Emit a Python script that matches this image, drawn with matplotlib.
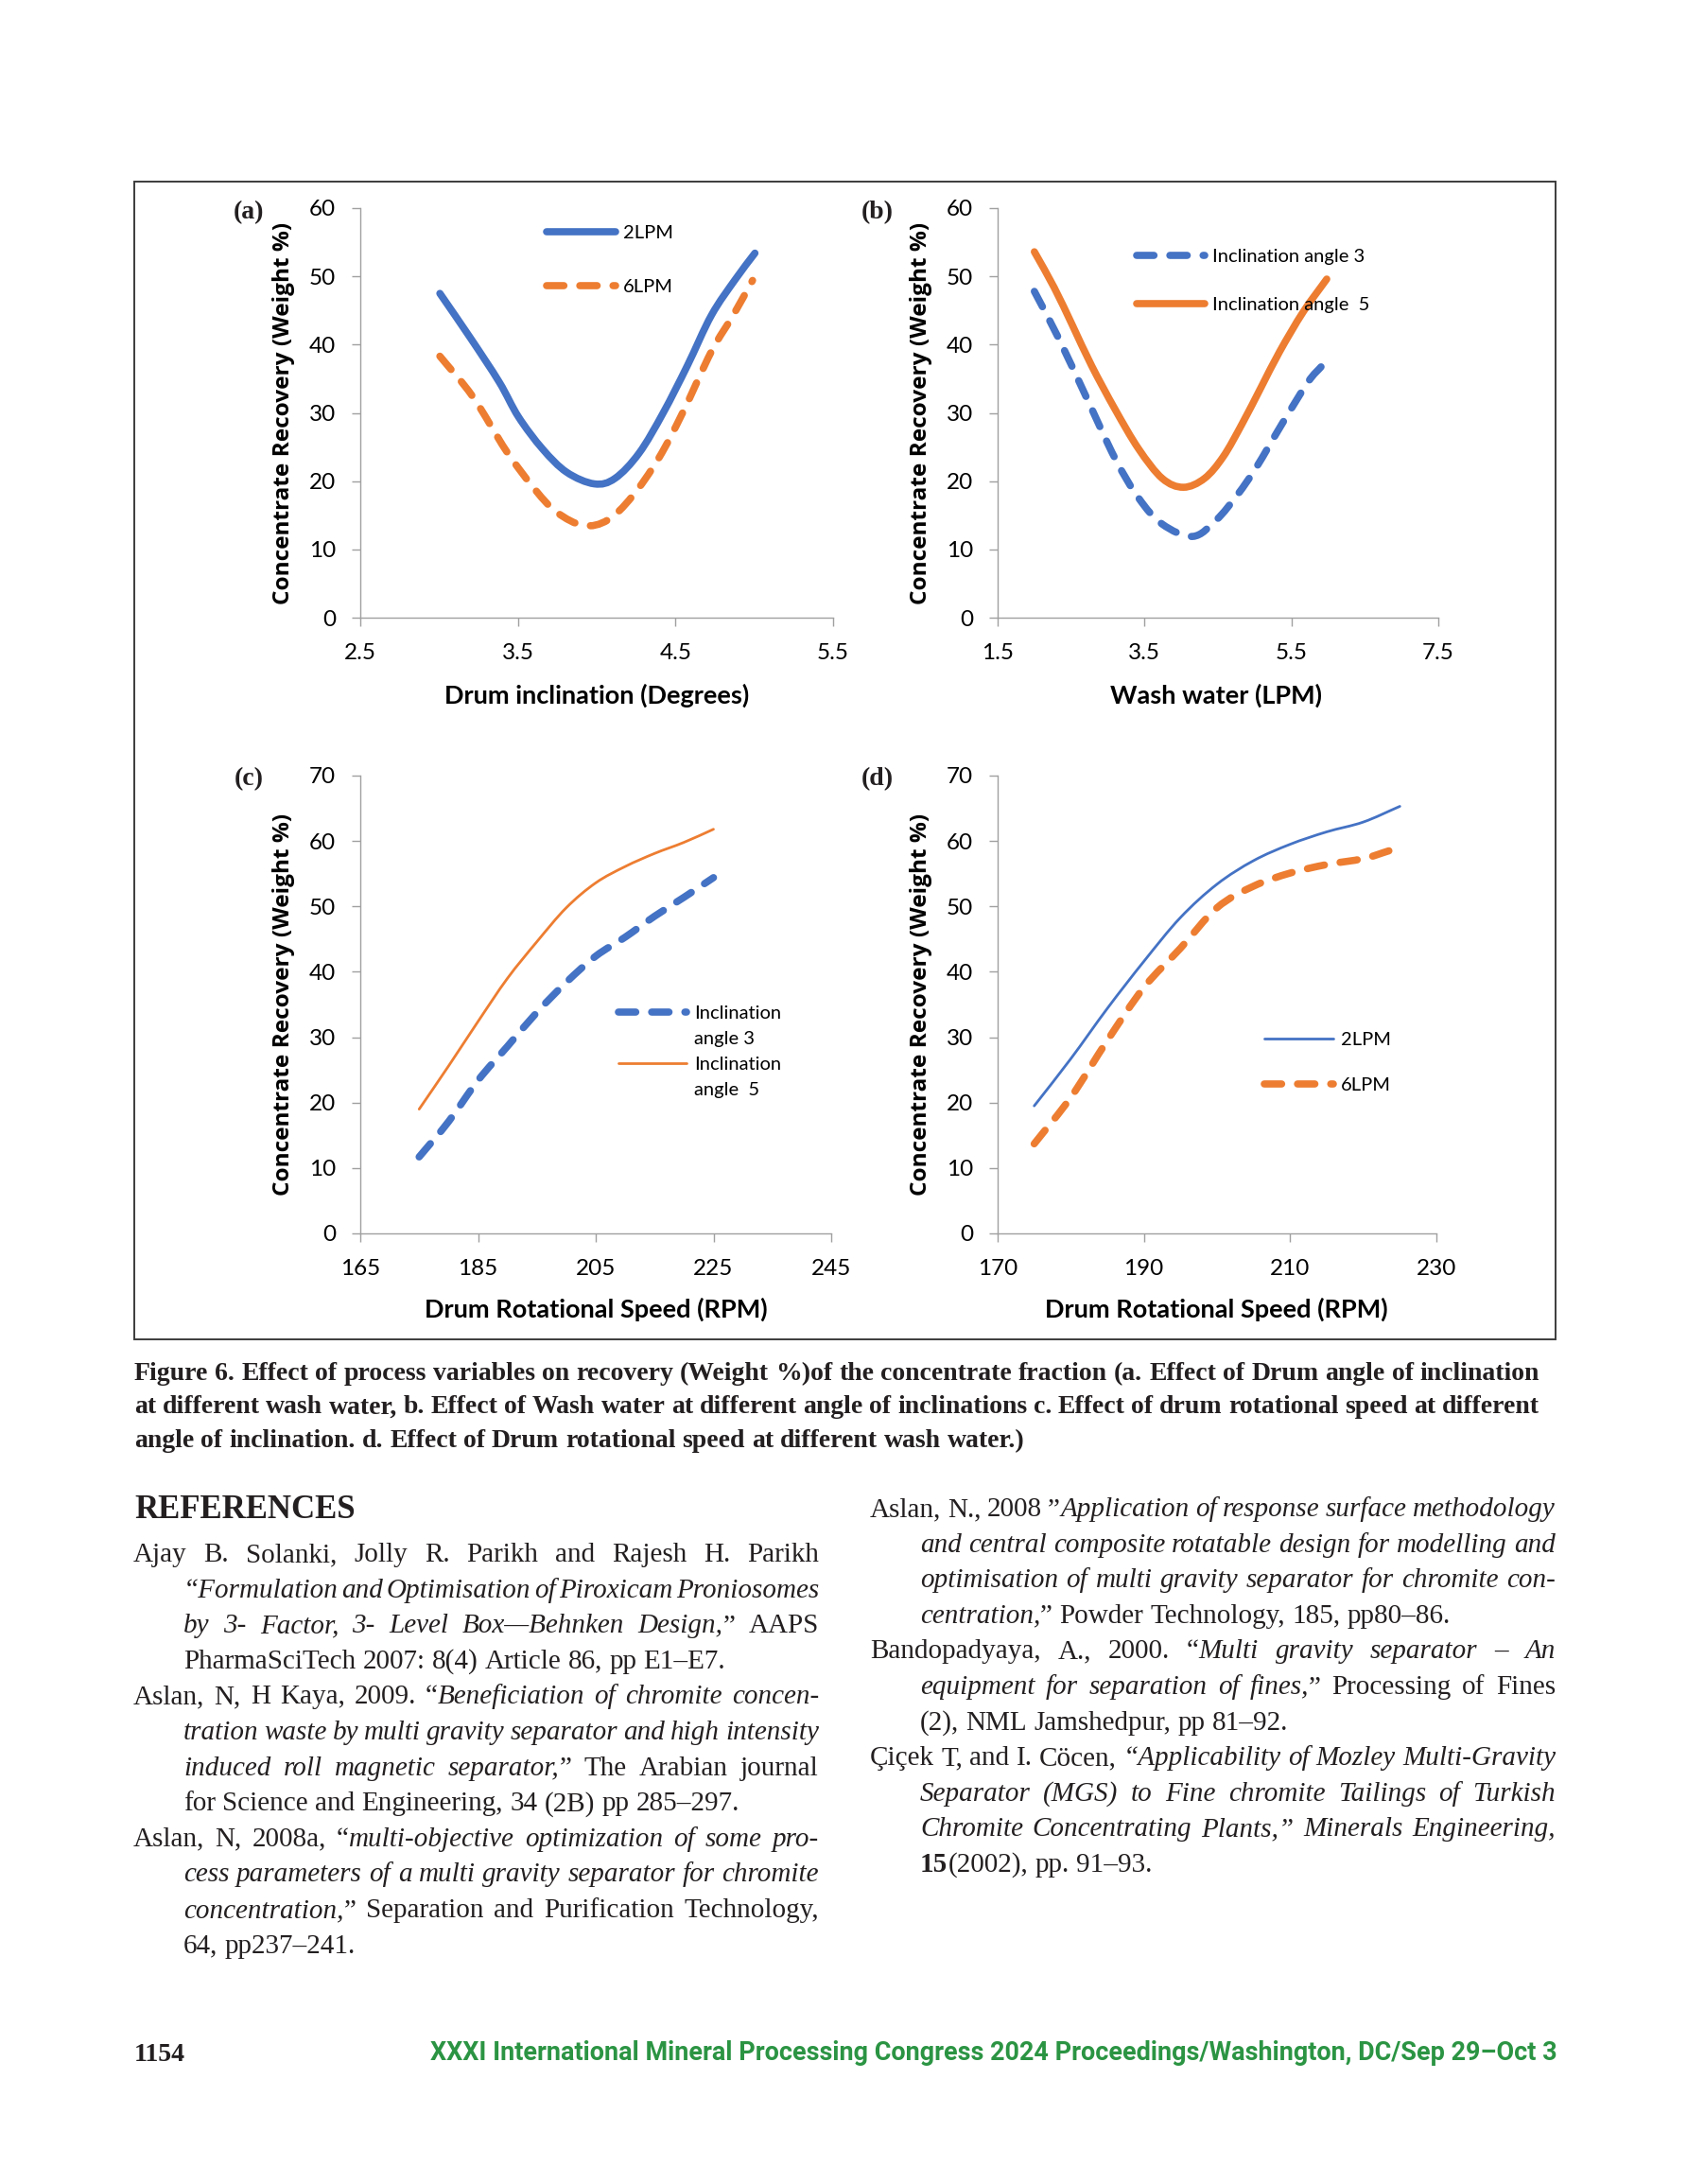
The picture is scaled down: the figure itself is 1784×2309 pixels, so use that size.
import matplotlib
matplotlib.use("Agg")
import matplotlib.pyplot as plt
import numpy as np
from matplotlib.path import Path
from matplotlib.patches import PathPatch, Rectangle
from matplotlib.lines import Line2D

plt.rcParams["font.family"] = ["Lato", "DejaVu Sans"]

W, H = 1784, 2309
BLUE = "#4472C4"
ORANGE = "#ED7D31"
GREY = "#A0A0A0"
INK = "#231f20"
GREEN = "#2b9443"

# (a) recovery vs drum inclination, two wash water rates
a_x_2 = [3.005, 3.198, 3.382, 3.504, 3.657, 3.810, 3.985, 4.116, 4.269, 4.422, 4.575, 4.728, 4.881, 5.004]
a_2lpm = [47.5, 41.0, 34.5, 29.4, 24.7, 21.3, 19.6, 20.4, 24.1, 30.0, 36.9, 44.3, 49.6, 53.4]
a_x_6 = [3.005, 3.213, 3.427, 3.611, 3.749, 3.917, 4.070, 4.223, 4.392, 4.545, 4.728, 4.866, 4.989]
a_6lpm = [38.3, 32.4, 24.4, 18.7, 15.4, 13.5, 14.3, 17.7, 23.3, 30.0, 39.0, 44.3, 49.4]

# (b) recovery vs wash water, two inclination angles
b_x_5 = [2.0, 2.268, 2.524, 2.780, 3.100, 3.421, 3.741, 4.029, 4.317, 4.573, 4.829, 5.085, 5.341, 5.661, 5.981]
b_ang5 = [53.6, 48.4, 42.7, 36.9, 30.5, 24.7, 20.4, 19.1, 20.4, 23.6, 28.4, 33.7, 39.0, 44.8, 49.6]
b_x_3 = [2.0, 2.332, 2.716, 3.100, 3.421, 3.741, 4.157, 4.477, 4.765, 5.021, 5.373, 5.725, 5.917]
b_ang3 = [47.8, 40.9, 32.1, 23.3, 17.5, 13.7, 11.9, 14.3, 18.0, 22.0, 28.4, 34.5, 36.9]

# (c) recovery vs drum speed, two inclination angles
rpm = [175, 180, 185, 190, 195, 200, 205, 210, 215, 220, 225]
c_ang3 = [11.7, 17.1, 23.4, 28.6, 33.8, 38.4, 42.4, 45.3, 48.5, 51.4, 54.4]
c_ang5 = [19.0, 25.6, 32.4, 39.0, 44.6, 49.8, 53.6, 56.1, 58.1, 59.8, 61.8]

# (d) recovery vs drum speed, two wash water rates
rpm6 = [175, 180, 185, 190, 195, 200, 205, 210, 215, 220, 223.5]
d_2lpm = [19.5, 26.7, 34.4, 41.6, 48.3, 53.4, 57.0, 59.5, 61.4, 62.9, 65.3]
d_6lpm = [13.7, 20.8, 29.5, 37.6, 43.6, 49.8, 53.1, 55.1, 56.4, 57.3, 58.5]

caption = [
    "Figure 6. Effect of process variables on recovery (Weight %)of the concentrate fraction (a. Effect of Drum angle of inclination",
    "at different wash water, b. Effect of Wash water at different angle of inclinations c. Effect of drum rotational speed at different",
    "angle of inclination. d. Effect of Drum rotational speed at different wash water.)",
]

# _ toggles italic, * toggles bold; (text, indented, justified)
refs_left = [
    ("Ajay B. Solanki, Jolly R. Parikh and Rajesh H. Parikh", False, True),
    ("_“Formulation and Optimisation of Piroxicam Proniosomes", True, True),
    ("_by 3- Factor, 3- Level Box—Behnken Design,_” AAPS", True, True),
    ("PharmaSciTech 2007: 8(4) Article 86, pp E1–E7.", True, False),
    ("Aslan, N, H Kaya, 2009. “_Beneficiation of chromite concen-", False, True),
    ("_tration waste by multi gravity separator and high intensity", True, True),
    ("_induced roll magnetic separator,_” The Arabian journal", True, True),
    ("for Science and Engineering, 34 (2B) pp 285–297.", True, False),
    ("Aslan, N, 2008a, “_multi-objective optimization of some pro-", False, True),
    ("_cess parameters of a multi gravity separator for chromite", True, True),
    ("_concentration,_” Separation and Purification Technology,", True, True),
    ("64, pp237–241.", True, False),
]
refs_right = [
    ("Aslan, N., 2008 ”_Application of response surface methodology", False, True),
    ("_and central composite rotatable design for modelling and", True, True),
    ("_optimisation of multi gravity separator for chromite con-", True, True),
    ("_centration,_” Powder Technology, 185, pp80–86.", True, False),
    ("Bandopadyaya, A., 2000. “_Multi gravity separator – An", False, True),
    ("_equipment for separation of fines,_” Processing of Fines", True, True),
    ("(2), NML Jamshedpur, pp 81–92.", True, False),
    ("Çiçek T, and I. Cöcen, _“Applicability of Mozley Multi-Gravity", False, True),
    ("_Separator (MGS) to Fine chromite Tailings of Turkish", True, True),
    ("_Chromite Concentrating Plants,” Minerals Engineering,", True, True),
    ("*15*(2002), pp. 91–93.", True, False),
]
footer = "XXXI International Mineral Processing Congress 2024 Proceedings/Washington, DC/Sep 29–Oct 3"

fig = plt.figure(figsize=(W / 100, H / 100), dpi=100, facecolor="white")
rend = fig.canvas.get_renderer()


def fx(x):
    return x / W


def fy(y):
    return 1 - y / H


def smooth(ax, x, y, color, lw, dashed):
    # Excel-style smoothed line (Catmull-Rom through the read points)
    p = np.column_stack([x, y]).astype(float)
    q = np.vstack([2 * p[0] - p[1], p, 2 * p[-1] - p[-2]])
    verts, codes = [p[0]], [Path.MOVETO]
    for i in range(len(p) - 1):
        verts += [q[i + 1] + (q[i + 2] - q[i]) / 6, q[i + 2] - (q[i + 3] - q[i + 1]) / 6, q[i + 2]]
        codes += [Path.CURVE4] * 3
    ls = (0, (2.4, 2.2)) if dashed else "-"
    patch = PathPatch(Path(verts, codes), fill=False, edgecolor=color, lw=lw,
                      linestyle=ls, capstyle="round", joinstyle="round")
    ax.add_patch(patch)
    return Line2D([], [], color=color, lw=lw, linestyle=ls,
                  solid_capstyle="round", dash_capstyle="round")


def panel(box, xlim, xticks, ylim, yticks, xlabel, xlab, ylab_x, tag, tag_xy):
    l, t, r, b = box
    ax = fig.add_axes([fx(l), fy(b), (r - l) / W, (b - t) / H])
    ax.set_facecolor("none")
    ax.set_xlim(*xlim)
    ax.set_ylim(*ylim)
    ax.set_xticks(xticks)
    ax.set_yticks(yticks)
    ax.set_xticklabels([f"{v:g}" for v in xticks])
    for s in ("top", "right"):
        ax.spines[s].set_visible(False)
    for s in ("left", "bottom"):
        ax.spines[s].set_color(GREY)
        ax.spines[s].set_linewidth(1.0)
    ax.tick_params(direction="out", length=6.5, width=1.0, color=GREY,
                   labelsize=17.5, labelcolor="black")
    ax.tick_params(axis="y", pad=12)
    ax.tick_params(axis="x", pad=13)
    ax.set_xlabel(xlabel, fontsize=19.5, fontweight="bold", family="Lato")
    ax.xaxis.set_label_coords(xlab[0], xlab[1])
    ax.xaxis.label.set_va("center")
    ax.set_ylabel("Concentrate Recovery (Weight %)", fontsize=17.6,
                  fontweight="bold", family="Open Sans")
    ax.yaxis.set_label_coords(ylab_x, 0.5)
    ax.yaxis.label.set_va("center")
    fig.text(fx(tag_xy[0]), fy(tag_xy[1]), tag, fontsize=20, fontweight="bold",
             family="Liberation Serif", ha="center", va="center", color=INK)
    return ax


def legend(ax, handles, labels, anchor, spacing):
    ax.legend(handles, labels, loc="center left", bbox_to_anchor=anchor,
              frameon=False, handlelength=3.6, handletextpad=0.4,
              labelspacing=spacing, borderpad=0, borderaxespad=0,
              prop={"family": "Lato", "size": 14.5})


# frame around the figure
fig.add_artist(Rectangle((fx(142), fy(1416)), (1645 - 142) / W, (1416 - 192) / H,
                         transform=fig.transFigure, fill=False,
                         edgecolor="#3c3c3c", lw=1.4))

ax = panel((381, 220, 881, 653), (2.5, 5.5), [2.5, 3.5, 4.5, 5.5], (0, 60),
           range(0, 61, 10), "Drum inclination (Degrees)", (0.5, -0.189), -0.162,
           "(a)", (263, 225))
h1 = smooth(ax, a_x_2, a_2lpm, BLUE, 5.5, False)
h2 = smooth(ax, a_x_6, a_6lpm, ORANGE, 5.5, True)
legend(ax, [h1, h2], ["2LPM", "6LPM"], (0.394, 0.873), 2.0)

ax = panel((1055, 220, 1521, 653), (1.5, 7.5), [1.5, 3.5, 5.5, 7.5], (0, 60),
           range(0, 61, 10), "Wash water (LPM)", (0.496, -0.189), -0.174,
           "(b)", (928, 225))
h1 = smooth(ax, b_x_3, b_ang3, BLUE, 5.5, True)
h2 = smooth(ax, b_x_5, b_ang5, ORANGE, 5.5, False)
legend(ax, [h1, h2], ["Inclination angle 3", "Inclination angle  5"], (0.315, 0.823), 1.69)

ax = panel((381, 820, 879, 1304), (165, 245), [165, 185, 205, 225, 245], (0, 70),
           range(0, 71, 10), "Drum Rotational Speed (RPM)", (0.5, -0.167), -0.163,
           "(c)", (263, 824))
h1 = smooth(ax, rpm, c_ang3, BLUE, 5.5, True)
h2 = smooth(ax, rpm, c_ang5, ORANGE, 2.0, False)
blank = Line2D([], [], linestyle="none")
legend(ax, [h1, blank, h2, blank], ["Inclination", "angle 3", "Inclination", "angle  5"],
       (0.548, 0.397), 0.49)

ax = panel((1055, 820, 1519, 1304), (170, 230), [170, 190, 210, 230], (0, 70),
           range(0, 71, 10), "Drum Rotational Speed (RPM)", (0.498, -0.167), -0.175,
           "(d)", (928, 824))
h1 = smooth(ax, rpm, d_2lpm, BLUE, 2.0, False)
h2 = smooth(ax, rpm6, d_6lpm, ORANGE, 5.5, True)
legend(ax, [h1, h2], ["2LPM", "6LPM"], (0.608, 0.373), 1.49)


def rich_line(markup, x0, y, size, x1=None, weight="normal", family="Liberation Serif"):
    words, style, wt = [], "normal", weight
    for raw in markup.split(" "):
        pieces, buf = [], ""
        for ch in raw:
            if ch in "_*":
                if buf:
                    pieces.append((buf, style, wt))
                    buf = ""
                if ch == "_":
                    style = "italic" if style == "normal" else "normal"
                else:
                    wt = "bold" if wt == "normal" else "normal"
            else:
                buf += ch
        if buf:
            pieces.append((buf, style, wt))
        if pieces:
            words.append(pieces)
    rows = []
    for pieces in words:
        row = []
        for s, st, w in pieces:
            t = fig.text(0, fy(y), s, fontsize=size, fontstyle=st, fontweight=w,
                         family=family, color=INK, va="baseline", ha="left")
            row.append((t, t.get_window_extent(rend).width))
        rows.append(row)
    p1 = fig.text(0, 0, "n n", fontsize=size, fontweight=weight, family=family)
    p2 = fig.text(0, 0, "nn", fontsize=size, fontweight=weight, family=family)
    space = p1.get_window_extent(rend).width - p2.get_window_extent(rend).width
    p1.remove()
    p2.remove()
    total = sum(w for row in rows for _, w in row)
    gap = space
    if x1 is not None and len(rows) > 1:
        gap = (x1 - x0 - total) / (len(rows) - 1)
    x = x0
    for row in rows:
        for t, w in row:
            t.set_x(fx(x))
            x += w
        x += gap


for i, line in enumerate(caption):
    rich_line(line, 142, 1459 + 35.4 * i, 20, 1628 if i < 2 else None, weight="bold")

fig.text(fx(142), fy(1605), "REFERENCES", fontsize=25, fontweight="bold",
         family="Liberation Serif", color=INK, va="baseline")

for i, (line, ind, just) in enumerate(refs_left):
    rich_line(line, 194 if ind else 141, 1651 + 37.6 * i, 21, 866 if just else None)
for i, (line, ind, just) in enumerate(refs_right):
    rich_line(line, 973 if ind else 920, 1603 + 37.6 * i, 21, 1645 if just else None)

fig.text(fx(142), fy(2179), "1154", fontsize=20, fontweight="bold",
         family="Liberation Serif", color=INK, va="baseline")
ft = fig.text(fx(1647), fy(2178), footer, fontsize=18, fontweight="bold",
              family="Roboto", color=GREEN, ha="right", va="baseline")
ft.set_fontsize(18 * 1193 / ft.get_window_extent(rend).width)

fig.savefig("out.png", dpi=100, facecolor="white")
